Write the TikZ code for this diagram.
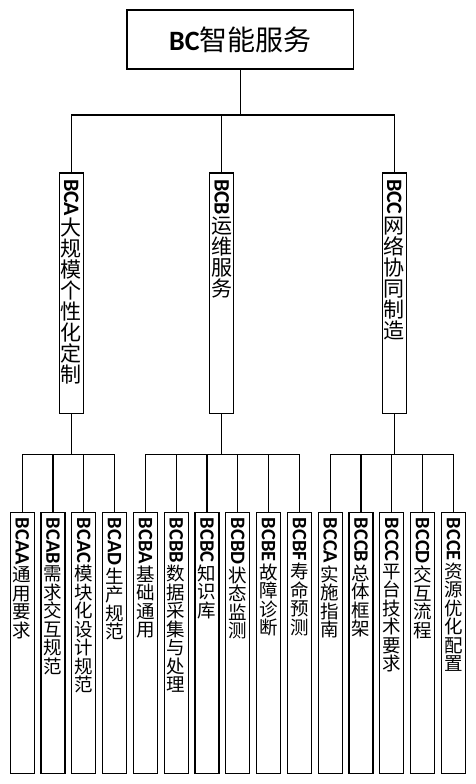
\documentclass[tikz,border=0pt]{standalone}
\usepackage{fontspec}
\usepackage{graphicx}
\setmainfont{Carlito}
\newfontfamily\cjk{Noto Sans CJK SC}
\usetikzlibrary{calc}

\newcommand\vchars[1]{\ifx#1\relax\else\hbox to 25pt{\hss#1\hss}\expandafter\vchars\fi}
\newcommand\vlab[4]{\vbox{\lineskip=2pt
  \hbox to 25pt{\hss\fontsize{#1}{#1}\selectfont\bfseries\rotatebox{-90}{#3}\hss}
  \fontsize{#2}{#2}\selectfont\cjk\expandafter\vchars#4\relax}}

\begin{document}
\begin{tikzpicture}[x=1pt,y=-1pt,
  box/.style={draw, line width=1.3pt, inner sep=0, minimum width=24pt, anchor=north},
  link/.style={line width=1.3pt},
  vtxt/.style={inner sep=0, anchor=north}]
\useasboundingbox (0,0) rectangle (476,784);
\node [draw, line width=1.6pt, minimum width=226.5pt, minimum height=58.5pt] (bc) at (240.3,39.5) {\fontsize{28}{28}\selectfont\textbf{BC}\cjk 智能服务};
\coordinate (bus1) at (0,115);
\coordinate (bus2) at (0,454.3);

\foreach \x/\code/\txt in {71.3/BCA/大规模个性化定制, 221.8/BCB/运维服务, 394.2/BCC/网络协同制造}{
  \node [box, minimum height=240.5pt] (\code) at (\x,172.3) {};
  \node [vtxt] (\code-t) at ($(\code.north)+(0,6.5)$) {\vlab{22}{21}{\code}{\txt}};
  \draw [link] (bc.south) -- (bc.south |- bus1) -| (\code.north);
}

\foreach \i/\code/\txt/\p in {0/BCAA/通用要求/BCA, 1/BCAB/需求交互规范/BCA, 2/BCAC/模块化设计规范/BCA, 3/BCAD/生产规范/BCA,
  4/BCBA/基础通用/BCB, 5/BCBB/数据采集与处理/BCB, 6/BCBC/知识库/BCB, 7/BCBD/状态监测/BCB, 8/BCBE/故障诊断/BCB, 9/BCBF/寿命预测/BCB,
  10/BCCA/实施指南/BCC, 11/BCCB/总体框架/BCC, 12/BCCC/平台技术要求/BCC, 13/BCCD/交互流程/BCC, 14/BCCE/资源优化配置/BCC}{
  \node [box, minimum height=261pt] (\code) at (22.2+30.8*\i,511.6) {};
  \node [vtxt] (\code-t) at ($(\code.north)+(0,6)$) {\vlab{20.5}{18.5}{\code}{\txt}};
  \draw [link] (\p.south) -- (\p.south |- bus2) -| (\code.north);
}
\end{tikzpicture}
\end{document}
